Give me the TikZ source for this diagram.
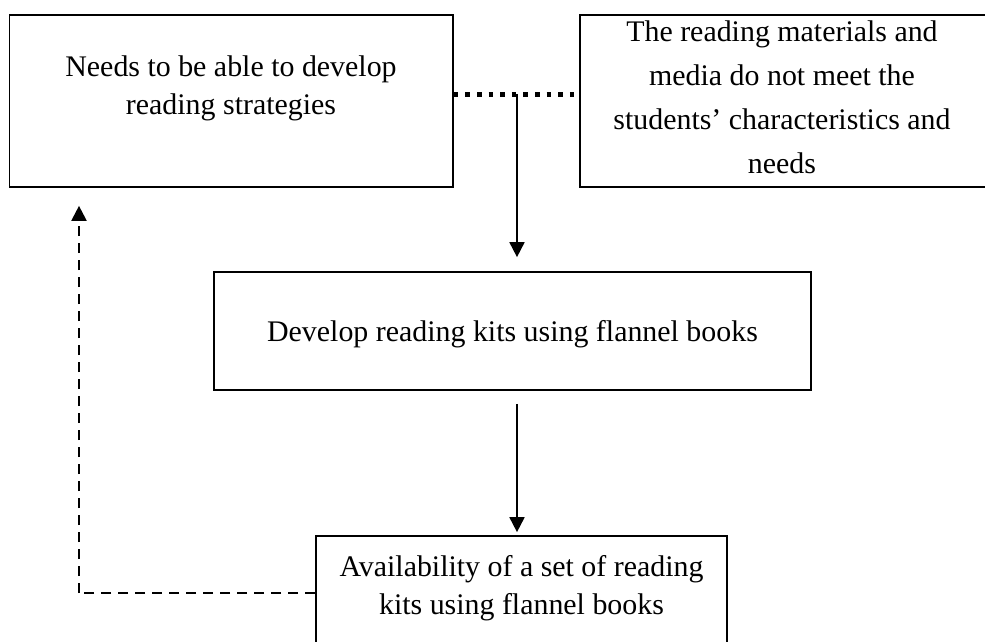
\documentclass[tikz,border=0pt]{standalone}
\usepackage{fontspec}
\setmainfont{Liberation Serif}
\usetikzlibrary{arrows.meta,calc}
\begin{document}
\begin{tikzpicture}[x=1pt,y=-1pt,
  boxline/.style={draw=black,line width=1.7pt},
  txt/.style={inner sep=0pt,align=center,font=\fontsize{29.9}{38}\selectfont},
  tip/.style={-{Triangle[width=15pt,length=15pt]}},
  arr/.style={line width=1.8pt,tip},
  dotline/.style={line width=5pt,dash pattern=on 4.6pt off 7pt},
  dashline/.style={line width=2.2pt,dash pattern=on 10pt off 7pt}]
\useasboundingbox (0,0) rectangle (985,641);
\begin{scope}
\clip (0,0) rectangle (985,641);
% boxes
\node[boxline,minimum width=443.5pt,minimum height=172pt,inner sep=0pt] (b1) at (231.25,101) {};
\node[boxline,minimum width=420pt,minimum height=172pt,inner sep=0pt] (b2) at (790,101) {};
\node[boxline,minimum width=597pt,minimum height=118pt,inner sep=0pt] (b3) at (512.5,331) {};
\node[boxline,minimum width=411pt,minimum height=124pt,inner sep=0pt] (b4) at (521.5,598) {};
% texts
\node[txt] (t1) at (231,88) {Needs to be able to develop\\reading strategies};
\node[txt,font=\fontsize{29.9}{44}\selectfont] (t2) at (782,97) {The reading materials and\\media do not meet the\\students’ characteristics and\\needs};
\node[txt] (t3) at (512.5,334) {Develop reading kits using flannel books};
\node[txt] (t4) at (521.5,588) {Availability of a set of reading\\kits using flannel books};
% connectors
\coordinate (d) at (517,94);
\coordinate (e) at (79,593);
\draw[dotline] (b1.east|-d) -- (b2.west|-d);
\draw[arr,shorten >=14pt] (d) -- (d|-b3.north);
\draw[arr,shorten <=13pt,shorten >=3pt] (d|-b3.south) -- (d|-b4.north);
\draw[dashline] (b4.west|-e) -- (e);
\draw[dashline,tip,shorten >=18pt] (e) -- (e|-b1.south);
\end{scope}
\end{tikzpicture}
\end{document}
